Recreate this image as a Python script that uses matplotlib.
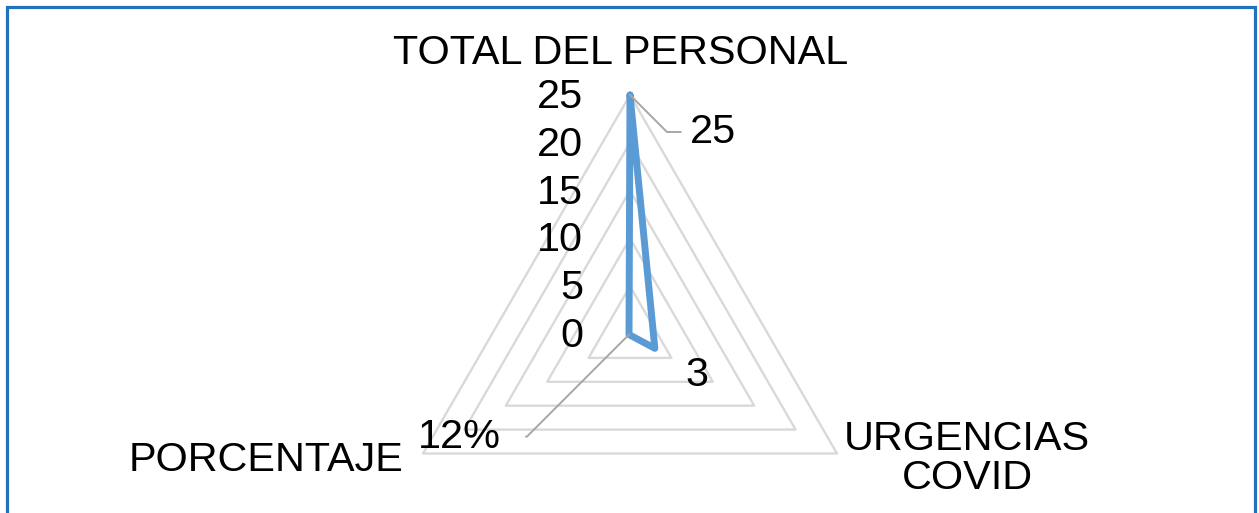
import numpy as np
import matplotlib.pyplot as plt
from matplotlib.patches import Rectangle

categories = ['TOTAL DEL PERSONAL', 'URGENCIAS\nCOVID', 'PORCENTAJE']
values = [25, 3, 0.12]
value_labels = ['25', '3', '12%']
rings = [5, 10, 15, 20, 25]
tick_values = [0, 5, 10, 15, 20, 25]

plt.rcParams['font.family'] = ['Liberation Sans', 'DejaVu Sans']
fs = 29.8

W, H = 1259, 513
fig = plt.figure(figsize=(W / 100, H / 100), dpi=100)
cx, cy, R = 630, 334, 239
ax = fig.add_axes([(cx - R) / W, (H - cy - R) / H, 2 * R / W, 2 * R / H],
                  projection='polar')
ax.set_theta_zero_location('N')
ax.set_theta_direction(-1)
ax.set_ylim(0, 25)
ax.grid(False)
ax.spines['polar'].set_visible(False)
ax.set_xticks([])
ax.set_yticks([])
ax.patch.set_visible(False)

theta = np.deg2rad([0, 120, 240])
closed = np.append(theta, theta[0])

for r in rings:
    ax.plot(closed, [r] * 4, color='#D9D9D9', lw=1.7, clip_on=False, zorder=1)

v = np.array(values)
ax.plot(closed, np.append(v, v[0]), color='#5B9BD5', lw=5,
        solid_joinstyle='round', solid_capstyle='round', clip_on=False, zorder=3)

# radial tick labels
for t in tick_values:
    ax.annotate(str(t), (0, t), xytext=(-47, -2), textcoords='offset pixels',
                ha='right', va='center', fontsize=fs, annotation_clip=False)

# category labels
ax.annotate(categories[0], (theta[0], 25), xytext=(-9, 42), textcoords='offset pixels',
            ha='center', va='center', fontsize=fs, annotation_clip=False)
ax.annotate(categories[1], (theta[1], 25), xytext=(130, -5), textcoords='offset pixels',
            ha='center', va='center', fontsize=fs, linespacing=1.05,
            annotation_clip=False)
ax.annotate(categories[2], (theta[2], 25), xytext=(-20, -6), textcoords='offset pixels',
            ha='right', va='center', fontsize=fs, annotation_clip=False)

# data labels with leader lines
leader = dict(arrowstyle='-', color='#A6A6A6', lw=1.4, shrinkA=0, shrinkB=0)
ax.annotate(value_labels[0], (theta[0], values[0]), xytext=(60, -37),
            textcoords='offset pixels', ha='left', va='center', fontsize=fs,
            annotation_clip=False,
            arrowprops=dict(leader, connectionstyle='angle,angleA=0,angleB=-45,rad=0',
                            relpos=(-0.2, 0.5)))
ax.annotate(value_labels[1], (theta[1], values[1]), xytext=(42, -27),
            textcoords='offset pixels', ha='center', va='center', fontsize=fs,
            annotation_clip=False)
ax.annotate(value_labels[2], (theta[2], values[2]), xytext=(-128, -102),
            textcoords='offset pixels', ha='right', va='center', fontsize=fs,
            annotation_clip=False,
            arrowprops=dict(leader, connectionstyle='angle,angleA=0,angleB=45,rad=0',
                            relpos=(1.3, 0.5)))

fig.patches.append(Rectangle((7 / W, -0.05), (1255 - 7) / W, (H - 7) / H + 0.05,
                             transform=fig.transFigure, fill=False,
                             edgecolor='#2273BE', lw=2.3))

fig.savefig('out.png', dpi=100)
